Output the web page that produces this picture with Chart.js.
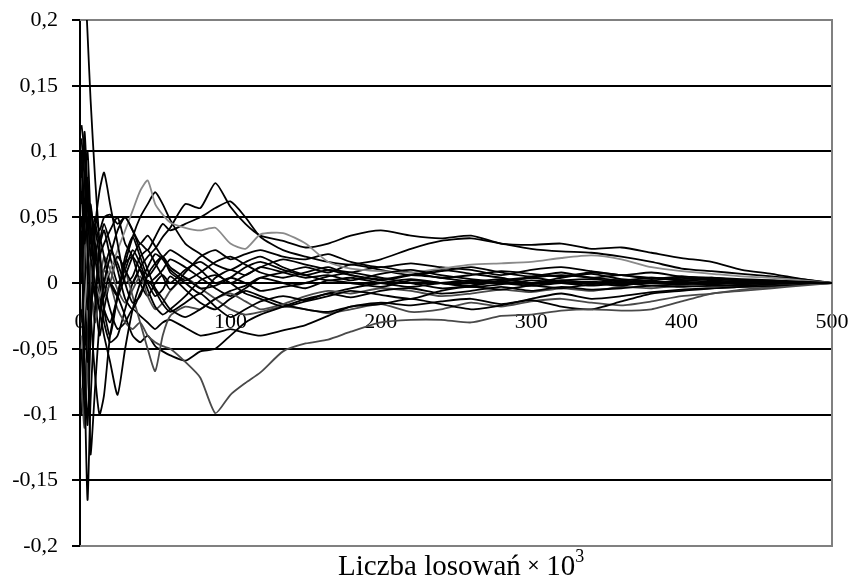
<!DOCTYPE html>
<html>
<head>
<meta charset="utf-8">
<script src="https://cdn.jsdelivr.net/npm/chart.js@4.4.1/dist/chart.umd.min.js"></script>
<style>
  html, body { margin: 0; padding: 0; background: #fff; }
  #wrap { width: 852px; height: 585px; position: relative; }
  #xtitle {
    position: absolute; left: 338px; top: 550px; white-space: nowrap;
    font-family: 'Liberation Serif', 'Times New Roman', serif; font-size: 29px; line-height: 30px; color: #000;
  }
  #xtitle .times { font-family: 'DejaVu Sans', sans-serif; font-size: 16px; vertical-align: 5px; margin: 0 6px 0 6px; }
  #xtitle sup { font-size: 18px; vertical-align: 13px; line-height: 0; }
</style>
</head>
<body>
<div id="wrap">
  <canvas id="chart" width="852" height="585"></canvas>
  <div id="xtitle">Liczba losowań<span class="times">×</span>10<sup>3</sup></div>
</div>
<script>
// Liczba losowań (x 10^3) - shared sampling points
const draws = [1,3,5,7,10,13,16,20,25,30,35,40,45,50,55,60,70,80,90,100,110,120,135,150,165,180,200,220,240,260,280,300,320,340,360,380,400,420,440,460,480,500];

const s01 = [0.3,0.24,0.19,0.14,0.08,0.03,-0.02,-0.04,-0.01,0.02,0.035,0.02,0.005,0.012,0.02,0.008,0.0,-0.008,0.004,0.01,0.006,0.012,0.008,0.004,0.006,0.002,0.007,0.01,0.006,0.003,0.001,0.004,0.006,0.004,0.002,0.004,0.002,0.003,0.002,0.001,0.001,0.0];
const s02 = [0.04,-0.07,-0.165,-0.09,-0.02,0.03,0.045,0.03,0.01,-0.012,-0.02,-0.008,0.002,-0.006,-0.016,-0.022,-0.015,-0.008,-0.018,-0.026,-0.02,-0.014,-0.01,-0.013,-0.008,-0.011,-0.006,-0.004,-0.008,-0.006,-0.003,-0.006,-0.003,-0.005,-0.004,-0.002,-0.003,-0.002,-0.002,-0.001,0.0,0.0];
const s03 = [0.12,0.1,0.02,-0.13,-0.08,-0.03,0.0,0.02,0.04,0.05,0.04,0.025,0.01,-0.004,-0.012,-0.02,-0.026,-0.02,-0.012,-0.006,-0.002,0.004,0.0,-0.004,0.002,0.0,-0.003,0.002,0.0,-0.002,0.001,-0.001,0.002,0.0,-0.002,0.001,0.0,-0.001,0.001,0.0,0.0,0.0];
const s04 = [-0.02,-0.06,-0.108,-0.04,0.04,0.07,0.084,0.06,0.03,0.0,-0.015,-0.01,0.006,0.015,0.02,0.012,0.004,-0.004,-0.002,0.004,0.012,0.016,0.01,0.006,0.01,0.008,0.004,0.0,-0.004,-0.002,0.002,0.004,0.001,0.0,0.002,0.0,-0.001,0.001,0.0,0.0,0.0,0.0];
const s05 = [0.09,0.06,0.03,-0.02,-0.07,-0.1,-0.085,-0.04,-0.01,0.015,0.02,0.01,-0.005,-0.018,-0.024,-0.02,-0.01,0.002,0.006,0.0,-0.008,-0.012,-0.018,-0.014,-0.01,-0.006,-0.009,-0.012,-0.006,-0.003,-0.005,-0.002,-0.004,-0.001,0.0,-0.002,-0.001,0.0,-0.001,0.0,0.0,0.0];
const s06 = [0.07,0.03,0.05,0.02,0.0,-0.02,-0.04,-0.06,-0.085,-0.05,-0.02,0.0,0.012,0.022,0.018,0.01,0.002,0.008,0.016,0.02,0.014,0.008,0.004,0.008,0.012,0.006,0.003,0.006,0.004,0.001,0.003,0.0,0.002,0.003,0.001,0.0,0.002,0.001,0.0,0.001,0.0,0.0];
const s07 = [-0.05,-0.02,0.01,0.02,0.0,-0.01,0.0,0.01,0.025,0.04,0.055,0.07,0.078,0.06,0.052,0.046,0.042,0.04,0.042,0.03,0.026,0.037,0.038,0.03,0.016,0.011,0.009,0.008,0.011,0.014,0.015,0.016,0.019,0.021,0.018,0.012,0.009,0.007,0.005,0.004,0.002,0.0];
const s08 = [0.0,0.05,0.08,0.04,0.0,-0.02,-0.01,0.01,0.02,0.01,0.0,0.012,0.02,0.026,0.035,0.042,0.06,0.057,0.076,0.058,0.045,0.036,0.032,0.027,0.03,0.036,0.04,0.036,0.034,0.036,0.03,0.029,0.03,0.026,0.027,0.023,0.019,0.016,0.01,0.007,0.003,0.0];
const s09 = [0.03,-0.03,-0.06,-0.02,0.02,0.035,0.02,0.0,-0.01,0.005,0.02,0.03,0.025,0.035,0.045,0.04,0.045,0.05,0.057,0.062,0.05,0.035,0.025,0.02,0.016,0.014,0.018,0.026,0.032,0.034,0.03,0.026,0.024,0.023,0.02,0.016,0.011,0.009,0.007,0.005,0.003,0.0];
const s10 = [0.11,0.08,0.04,0.06,0.03,0.0,-0.02,-0.03,-0.01,0.015,0.035,0.05,0.06,0.069,0.06,0.048,0.03,0.022,0.014,0.01,0.016,0.02,0.012,0.006,0.002,0.004,0.0,-0.003,0.0,0.002,0.0,-0.002,0.0,0.001,-0.001,0.0,0.001,0.0,0.0,0.0,0.0,0.0];
const s11 = [-0.03,0.02,0.05,0.0,-0.03,-0.01,0.01,0.0,-0.02,-0.03,-0.035,-0.03,-0.04,-0.045,-0.048,-0.05,-0.06,-0.072,-0.099,-0.085,-0.076,-0.068,-0.052,-0.046,-0.043,-0.037,-0.03,-0.028,-0.028,-0.03,-0.025,-0.024,-0.021,-0.02,-0.021,-0.02,-0.014,-0.008,-0.006,-0.004,-0.002,0.0];
const s12 = [-0.08,-0.11,-0.06,0.0,0.03,0.01,-0.01,0.0,0.02,0.01,-0.01,-0.03,-0.05,-0.067,-0.04,-0.025,-0.018,-0.02,-0.012,-0.008,-0.014,-0.02,-0.016,-0.01,-0.006,-0.008,-0.004,-0.006,-0.01,-0.008,-0.005,-0.007,-0.004,-0.006,-0.003,-0.004,-0.002,-0.003,-0.001,-0.001,0.0,0.0];
const s13 = [0.02,0.08,0.1,0.05,-0.01,-0.04,-0.02,0.0,-0.01,-0.025,-0.04,-0.045,-0.04,-0.048,-0.052,-0.055,-0.059,-0.052,-0.05,-0.04,-0.03,-0.024,-0.018,-0.012,-0.008,-0.004,0.0,0.003,0.0,-0.003,-0.001,0.002,0.0,-0.002,0.0,0.001,0.0,-0.001,0.0,0.0,0.0,0.0];
const s14 = [-0.05,-0.1,-0.06,0.01,0.04,0.02,0.0,-0.02,-0.035,-0.03,-0.02,-0.025,-0.03,-0.035,-0.03,-0.028,-0.034,-0.04,-0.038,-0.035,-0.038,-0.04,-0.036,-0.032,-0.025,-0.018,-0.015,-0.017,-0.014,-0.012,-0.016,-0.013,-0.018,-0.02,-0.014,-0.008,-0.006,-0.004,-0.003,-0.002,-0.001,0.0];
const s15 = [0.06,0.115,0.07,0.03,0.05,0.04,0.05,0.052,0.045,0.05,0.04,0.03,0.036,0.028,0.02,0.025,0.018,0.01,0.0,0.004,0.0,-0.006,-0.003,0.0,0.005,0.008,0.012,0.008,0.004,0.006,0.009,0.007,0.005,0.008,0.006,0.004,0.003,0.004,0.002,0.001,0.001,0.0];
const s16 = [-0.1,-0.04,0.02,0.06,0.02,0.0,0.01,0.025,0.015,0.0,0.005,0.02,0.025,0.015,0.005,-0.005,0.008,0.02,0.025,0.018,0.022,0.025,0.02,0.018,0.022,0.016,0.012,0.015,0.012,0.01,0.006,0.01,0.012,0.009,0.006,0.008,0.005,0.004,0.003,0.002,0.001,0.0];
const s17 = [0.05,0.0,-0.05,-0.02,0.0,-0.01,-0.03,-0.045,-0.04,-0.02,0.0,0.01,0.0,-0.01,-0.005,0.005,-0.005,-0.015,-0.02,-0.012,-0.006,-0.01,-0.016,-0.02,-0.022,-0.018,-0.016,-0.012,-0.016,-0.02,-0.017,-0.012,-0.008,-0.012,-0.01,-0.007,-0.005,-0.004,-0.003,-0.002,-0.001,0.0];
const s18 = [0.1,0.03,-0.02,0.01,0.045,0.03,0.04,0.02,0.0,0.01,0.025,0.015,0.0,0.004,0.01,0.018,0.012,0.004,-0.004,-0.01,-0.004,0.004,0.008,0.012,0.008,0.014,0.01,0.006,0.009,0.012,0.008,0.005,0.008,0.004,0.006,0.003,0.005,0.003,0.002,0.002,0.001,0.0];
const s19 = [-0.04,-0.08,-0.04,-0.01,-0.02,0.0,0.02,0.01,-0.005,-0.015,-0.005,0.005,-0.01,-0.02,-0.015,-0.006,0.004,-0.004,-0.012,-0.02,-0.024,-0.022,-0.018,-0.02,-0.023,-0.02,-0.016,-0.022,-0.02,-0.015,-0.018,-0.014,-0.012,-0.015,-0.017,-0.014,-0.01,-0.008,-0.005,-0.003,-0.001,0.0];
const s20 = [0.08,0.1,0.06,0.02,-0.01,0.02,0.03,0.04,0.05,0.03,0.02,0.0,-0.01,0.0,0.006,0.0,0.01,0.016,0.008,0.0,0.006,0.012,0.018,0.014,0.01,0.006,0.002,0.006,0.01,0.007,0.004,0.0,0.004,0.007,0.003,0.002,0.004,0.002,0.001,0.001,0.0,0.0];

const allSeries = [s01,s02,s03,s04,s05,s06,s07,s08,s09,s10,s11,s12,s13,s14,s15,s16,s17,s18,s19,s20];
const yTicks = [-0.2,-0.15,-0.1,-0.05,0,0.05,0.1,0.15,0.2];

// mostly black, a couple of grey runs
function lineColor(i) {
    if (i === 6) return '#8a8a8a';
    if (i === 10 || i === 11 || i === 18) return '#4a4a4a';
    return '#000000';
}

const serif = 'Liberation Serif, Times New Roman, serif';

const frame = {
    id: 'frame',
    beforeDatasetsDraw(chart) {
        const a = chart.chartArea;
        const ctx = chart.ctx;
        ctx.save();
        ctx.strokeStyle = '#808080';
        ctx.lineWidth = 2;
        ctx.beginPath();
        ctx.moveTo(a.left, a.top);
        ctx.lineTo(a.right, a.top);
        ctx.lineTo(a.right, a.bottom);
        ctx.lineTo(a.left, a.bottom);
        ctx.stroke();
        ctx.restore();
    }
};

new Chart(document.getElementById('chart'), {
    type: 'line',
    data: {
        datasets: allSeries.map((s, i) => ({
            data: draws.map((x, j) => ({ x: x, y: s[j] })),
            borderColor: lineColor(i),
            borderWidth: 1.8,
            pointRadius: 0,
            tension: 0.2,
            fill: false
        }))
    },
    options: {
        responsive: false,
        animation: false,
        layout: { padding: { left: 0, right: 20, top: 20, bottom: 39 } },
        plugins: {
            legend: { display: false },
            tooltip: { enabled: false },
            title: { display: false }
        },
        scales: {
            x: {
                type: 'linear',
                position: { y: 0 },
                min: 0,
                max: 500,
                afterFit(scale) { scale.paddingLeft = 0; scale.paddingRight = 0; },
                grid: { display: false },
                border: { display: false },
                ticks: {
                    stepSize: 100,
                    color: '#000',
                    padding: 18,
                    maxRotation: 0,
                    font: { family: serif, size: 22 }
                }
            },
            y: {
                min: -0.2,
                max: 0.2,
                afterFit(scale) { scale.width = 80; scale.paddingTop = 0; scale.paddingBottom = 0; },
                afterBuildTicks(scale) { scale.ticks = yTicks.map(v => ({ value: v })); },
                grid: {
                    color: ctx => (Math.abs(ctx.tick.value) > 0.19 ? '#808080' : '#000'),
                    lineWidth: 2,
                    drawTicks: true,
                    tickLength: 8,
                    tickColor: '#000'
                },
                border: { display: true, color: '#000', width: 2 },
                ticks: {
                    color: '#000',
                    padding: 14,
                    font: { family: serif, size: 22 },
                    callback: v => String(Number(v.toFixed(2))).replace('.', ',')
                }
            }
        }
    },
    plugins: [frame]
});
</script>
</body>
</html>
